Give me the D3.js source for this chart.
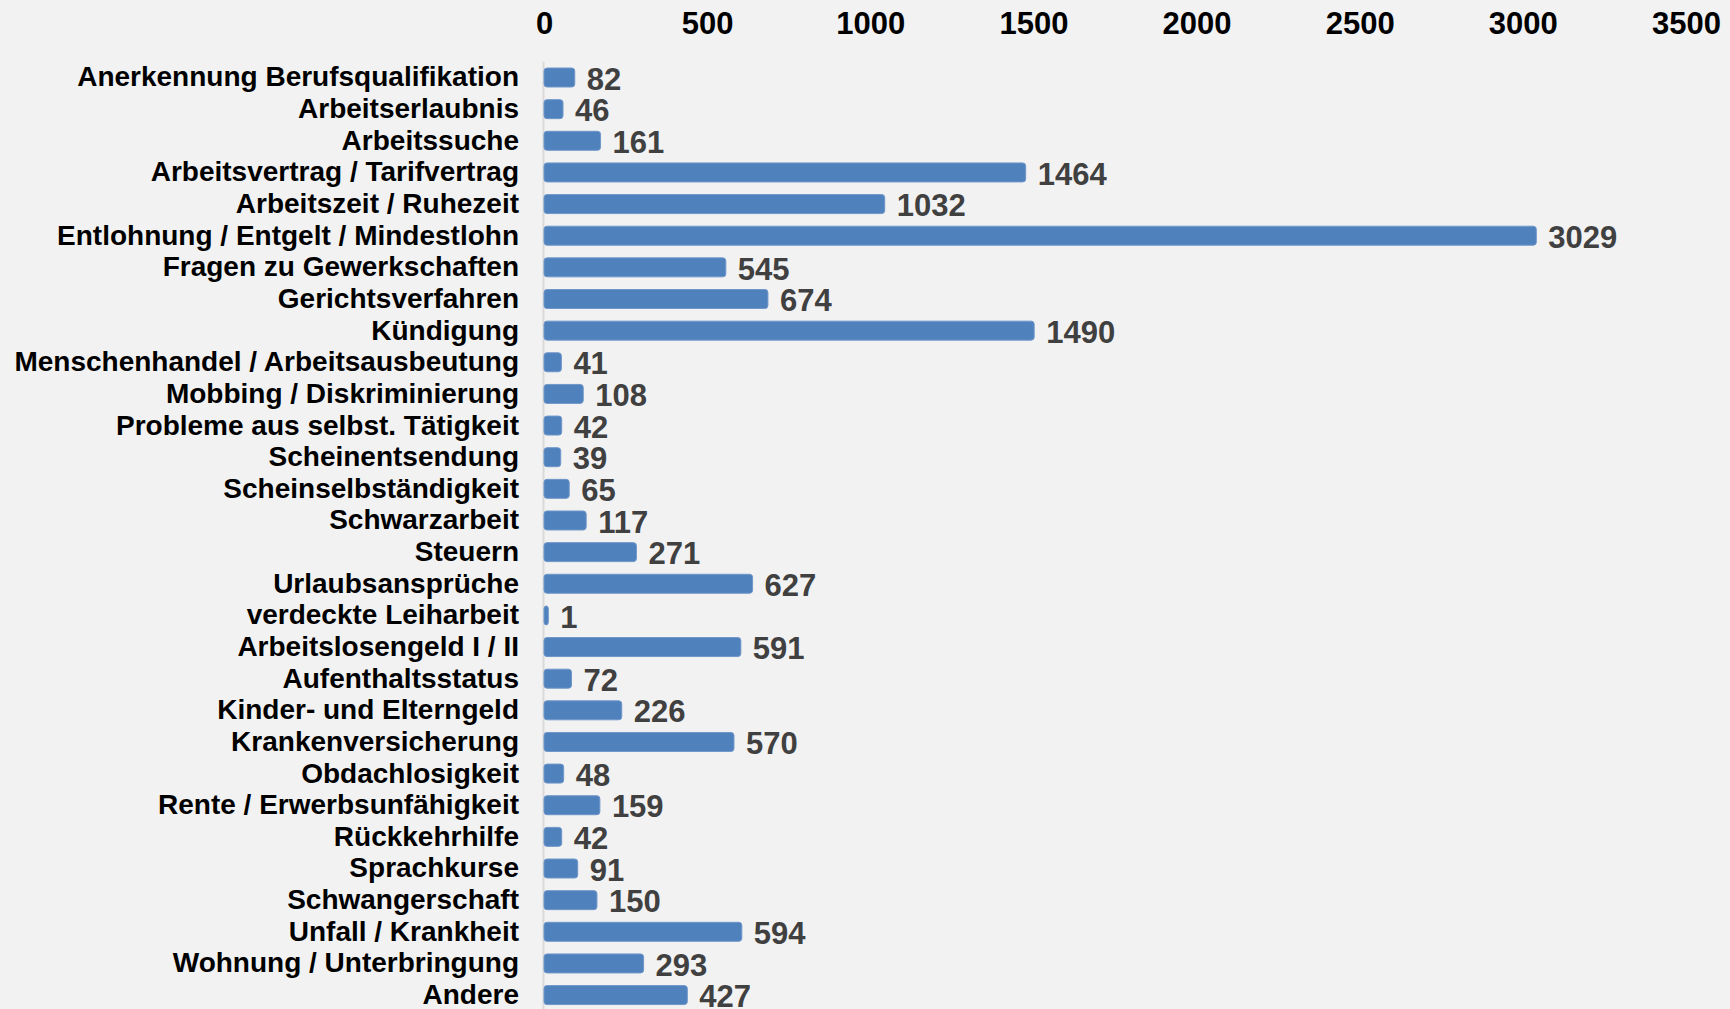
<!DOCTYPE html>
<html>
<head>
<meta charset="utf-8">
<script src="https://cdn.jsdelivr.net/npm/d3@7"></script>
<style>
  html, body { margin: 0; padding: 0; background: #f2f2f2; }
  svg { display: block; }
  text { font-family: "Liberation Sans", Arial, sans-serif; font-weight: bold; }
</style>
</head>
<body>
<div id="chart"></div>
<script>
var categories = [
  "Anerkennung Berufsqualifikation", "Arbeitserlaubnis", "Arbeitssuche",
  "Arbeitsvertrag / Tarifvertrag", "Arbeitszeit / Ruhezeit",
  "Entlohnung / Entgelt / Mindestlohn", "Fragen zu Gewerkschaften",
  "Gerichtsverfahren", "Kündigung", "Menschenhandel / Arbeitsausbeutung",
  "Mobbing / Diskriminierung", "Probleme aus selbst. Tätigkeit",
  "Scheinentsendung", "Scheinselbständigkeit", "Schwarzarbeit", "Steuern",
  "Urlaubsansprüche", "verdeckte Leiharbeit", "Arbeitslosengeld I / II",
  "Aufenthaltsstatus", "Kinder- und Elterngeld", "Krankenversicherung",
  "Obdachlosigkeit", "Rente / Erwerbsunfähigkeit", "Rückkehrhilfe",
  "Sprachkurse", "Schwangerschaft", "Unfall / Krankheit",
  "Wohnung / Unterbringung", "Andere"
];
var counts = [
  82, 46, 161, 1464, 1032, 3029, 545, 674, 1490, 41,
  108, 42, 39, 65, 117, 271, 627, 1, 591, 72,
  226, 570, 48, 159, 42, 91, 150, 594, 293, 427
];
var tickValues = [0, 500, 1000, 1500, 2000, 2500, 3000, 3500];

var width = 1730, height = 1009;
var x0 = 544, x1 = 1686;
var yTop = 61.7, yBottom = 1010.9;
var barExtra = 4; // rounded bar end sticks out a little past the value

var svg = d3.select("#chart").append("svg")
  .attr("width", width).attr("height", height);

svg.append("rect").attr("width", width).attr("height", height).attr("fill", "#f2f2f2");

var x = d3.scaleLinear().domain([0, 3500]).range([x0, x1]);
var y = d3.scaleBand().domain(categories).range([yTop, yBottom]).paddingInner(0.4).paddingOuter(0.2);

// top axis, labels only
var xAxis = svg.append("g")
  .attr("transform", "translate(0,23)")
  .call(d3.axisTop(x).tickValues(tickValues).tickSize(0).tickPadding(0).tickFormat(d3.format("d")));
xAxis.select(".domain").remove();
xAxis.selectAll("text")
  .attr("font-size", 31)
  .attr("font-family", "Liberation Sans, Arial, sans-serif")
  .attr("font-weight", "bold")
  .attr("fill", "#000")
  .attr("dy", "0.35em");

// zero line
svg.append("line")
  .attr("x1", x(0) - 0.5).attr("x2", x(0) - 0.5)
  .attr("y1", yTop).attr("y2", height)
  .attr("stroke", "#d9d9d9").attr("stroke-width", 2);

// category labels
var yAxis = svg.append("g")
  .attr("transform", "translate(519,0)")
  .call(d3.axisLeft(y).tickSize(0).tickPadding(0));
yAxis.select(".domain").remove();
yAxis.selectAll("text")
  .attr("font-size", 28)
  .attr("font-family", "Liberation Sans, Arial, sans-serif")
  .attr("font-weight", "bold")
  .attr("fill", "#000");

var rows = categories.map(function(c, i){ return { name: c, value: counts[i] }; });

svg.selectAll(".bar").data(rows).enter().append("rect")
  .attr("class", "bar")
  .attr("x", x(0))
  .attr("y", function(d){ return y(d.name); })
  .attr("width", function(d){ return x(d.value) - x(0) + barExtra; })
  .attr("height", y.bandwidth())
  .attr("rx", 3)
  .attr("fill", "#4f81bd")
  .attr("stroke", "#6f97c9")
  .attr("stroke-width", 1);

svg.selectAll(".val").data(rows).enter().append("text")
  .attr("class", "val")
  .attr("x", function(d){ return x(d.value) + barExtra + 12; })
  .attr("y", function(d){ return y(d.name) + y.bandwidth() / 2 + 1; })
  .attr("dy", "0.36em")
  .attr("font-size", 31)
  .attr("fill", "#404040")
  .text(function(d){ return d.value; });
</script>
</body>
</html>
